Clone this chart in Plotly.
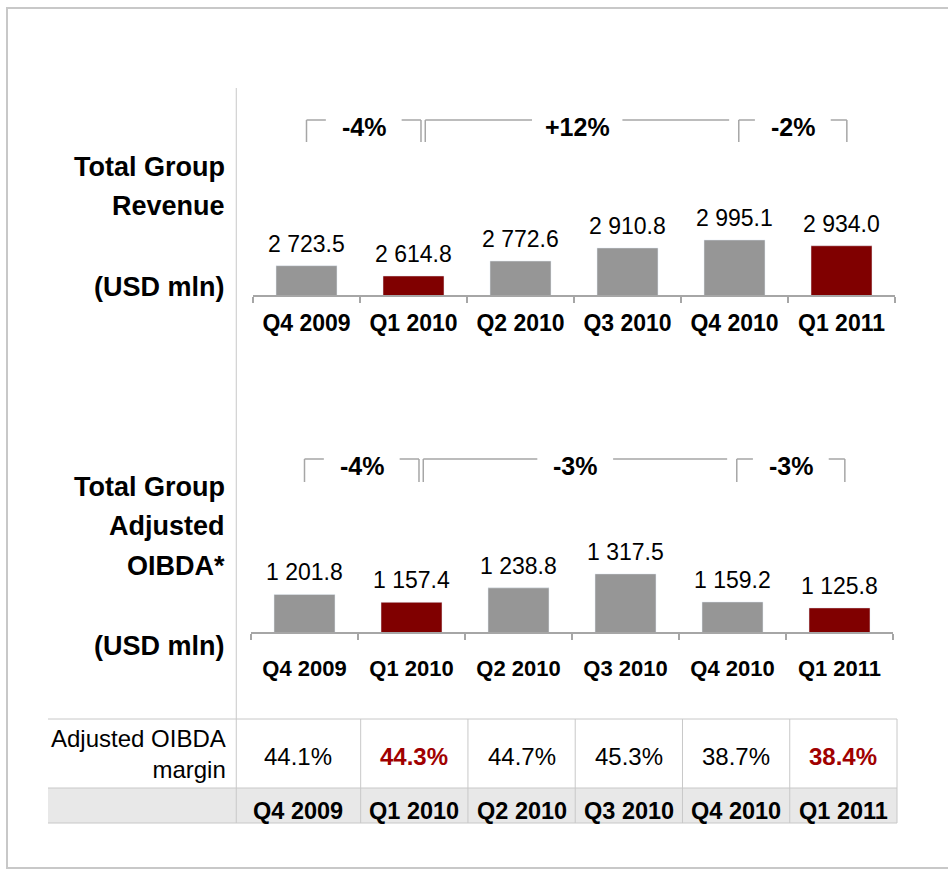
import plotly.graph_objects as go

W, H = 948, 877

# ---------------------------------------------------------
# Données
# ---------------------------------------------------------
quarters = ["Q4 2009", "Q1 2010", "Q2 2010", "Q3 2010", "Q4 2010", "Q1 2011"]
revenue = [2723.5, 2614.8, 2772.6, 2910.8, 2995.1, 2934.0]
oibda = [1201.8, 1157.4, 1238.8, 1317.5, 1159.2, 1125.8]
margin = ["44.1%", "44.3%", "44.7%", "45.3%", "38.7%", "38.4%"]
highlight = [False, True, False, False, False, True]

revenue_changes = ["-4%", "+12%", "-2%"]
oibda_changes = ["-4%", "-3%", "-3%"]

# ---------------------------------------------------------
# Styles
# ---------------------------------------------------------
GRAY = "#969696"
RED = "#800000"
RED_TXT = "#a00000"
AXIS = "#a6a6a6"
LINE = "#c8c8c8"
FONT = "Liberation Sans, Arial, sans-serif"

# brackets : (x début, x fin, fermé à droite) en unités de catégorie
bracket_spans = [(0.0, 1.07, True), (1.11, 3.95, False), (4.04, 5.05, True)]


def py(p):
    return 1 - p / H


def fmt(v):
    return f"{v:,.1f}".replace(",", " ")


colors = [RED if h else GRAY for h in highlight]

fig = go.Figure()
fig.add_trace(go.Bar(x=quarters, y=revenue, marker_color=colors, width=0.57,
                     xaxis="x", yaxis="y", hoverinfo="skip"))
fig.add_trace(go.Bar(x=quarters, y=oibda, marker_color=colors, width=0.57,
                     xaxis="x2", yaxis="y2", hoverinfo="skip"))

# ---- étiquettes de valeurs ----------------------------------------------
for xr, yr, vals in [("x", "y", revenue), ("x2", "y2", oibda)]:
    for q, v in zip(quarters, vals):
        fig.add_annotation(x=q, y=v, xref=xr, yref=yr, text=fmt(v), showarrow=False,
                           yanchor="bottom", yshift=7,
                           font=dict(family=FONT, size=23, color="black"))

# ---- crochets de variation ----------------------------------------------
def add_brackets(labels, xref, y_line, y_end):
    for label, (x0, x1, closed) in zip(labels, bracket_spans):
        mid = (x0 + x1) / 2
        half = (7.3 * len(label) + 16) / 107
        segs = [(x0, y_end, x0, y_line), (x0, y_line, mid - half, y_line),
                (mid + half, y_line, x1, y_line)]
        if closed:
            segs.append((x1, y_line, x1, y_end))
        for a, b, c, d in segs:
            fig.add_shape(type="line", xref=xref, yref="paper", x0=a, x1=c,
                          y0=py(b), y1=py(d), line=dict(color=AXIS, width=1.5))
        fig.add_annotation(x=mid, y=py(y_line + 7), xref=xref, yref="paper",
                           text=label, showarrow=False, yanchor="middle",
                           font=dict(family=FONT, size=25, color="black", weight="bold"))


add_brackets(revenue_changes, "x", 120, 142)
add_brackets(oibda_changes, "x2", 459, 482)

# ---- libellés à gauche ---------------------------------------------------
left_labels = [("Total Group", 167), ("Revenue", 206), ("(USD mln)", 287),
               ("Total Group", 487), ("Adjusted", 526), ("OIBDA*", 566), ("(USD mln)", 646)]
for txt, yy in left_labels:
    fig.add_annotation(x=227 / W, y=py(yy), xref="paper", yref="paper", text=txt,
                       showarrow=False, xanchor="right", yanchor="middle",
                       font=dict(family=FONT, size=27, color="black", weight="bold"))

# ---- tableau de marge ----------------------------------------------------
edges = [-2.415, -0.66, 0.5, 1.5, 2.5, 3.5, 4.5, 5.5]
fig.add_shape(type="rect", xref="x3", yref="y3", x0=edges[0], x1=edges[-1], y0=0, y1=35,
              fillcolor="#e8e8e8", line_width=0, layer="below")
for yy in [0, 35, 104]:
    fig.add_shape(type="line", xref="x3", yref="y3", x0=edges[0], x1=edges[-1], y0=yy, y1=yy,
                  line=dict(color=LINE, width=1))
for xx in edges[1:]:
    fig.add_shape(type="line", xref="x3", yref="y3", x0=xx, x1=xx, y0=0, y1=104,
                  line=dict(color=LINE, width=1))
# séparateur vertical
fig.add_shape(type="line", xref="x3", yref="paper", x0=edges[1], x1=edges[1],
              y0=py(719), y1=py(88), line=dict(color=LINE, width=1))

fig.add_annotation(x=edges[1] - 0.08, y=69, xref="x3", yref="y3",
                   text="Adjusted OIBDA<br>margin", showarrow=False, align="right",
                   xanchor="right", yanchor="middle",
                   font=dict(family=FONT, size=24, color="black"))
for i, (q, m, h) in enumerate(zip(quarters, margin, highlight)):
    cx = (edges[i + 1] + edges[i + 2]) / 2
    fig.add_annotation(x=cx, y=67, xref="x3", yref="y3",
                       text=f"<b>{m}</b>" if h else m, showarrow=False, yanchor="middle",
                       font=dict(family=FONT, size=24, color=RED_TXT if h else "black"))
    fig.add_annotation(x=cx, y=12, xref="x3", yref="y3", text=q, showarrow=False,
                       yanchor="middle",
                       font=dict(family=FONT, size=23.5, color="black", weight="bold"))

# cadre extérieur
fig.add_shape(type="rect", xref="paper", yref="paper", x0=7 / W, x1=1.02,
              y0=py(868), y1=py(8), line=dict(color=LINE, width=2))

xax = dict(type="category", showline=True, linecolor=AXIS, linewidth=1.5,
           ticks="outside", tickson="boundaries", ticklen=6, tickcolor=AXIS, tickwidth=1.5,
           showgrid=False, zeroline=False, fixedrange=True)

fig.update_layout(
    width=W, height=H, margin=dict(l=0, r=0, t=0, b=0),
    paper_bgcolor="white", plot_bgcolor="white", showlegend=False,
    xaxis=dict(xax, domain=[253 / W, 895 / W], anchor="y", ticklabelstandoff=7,
               tickfont=dict(family=FONT, size=23, color="black", weight="bold")),
    yaxis=dict(domain=[py(295), py(100)], range=[2414, 4473], visible=False, anchor="x"),
    xaxis2=dict(xax, domain=[251 / W, 893 / W], anchor="y2", ticklabelstandoff=16,
                tickfont=dict(family=FONT, size=22, color="black", weight="bold")),
    yaxis2=dict(domain=[py(632), py(440)], range=[990, 2072], visible=False, anchor="x2"),
    xaxis3=dict(domain=[46 / W, 899 / W], range=[-2.415 - 2 / 107.27, 5.5 + 2 / 107.27],
                visible=False, anchor="y3"),
    yaxis3=dict(domain=[py(825), py(717)], range=[-2, 106], visible=False, anchor="x3"),
)

fig.write_html("out.html", config={"displayModeBar": False},
               post_script="document.body.style.margin='0';")
